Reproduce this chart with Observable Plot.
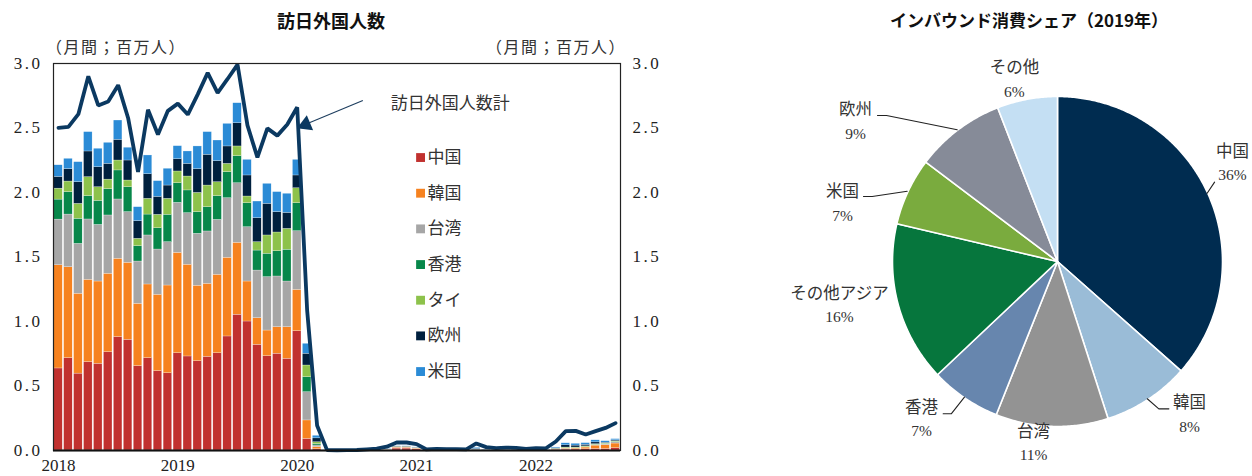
<!DOCTYPE html>
<html><head><meta charset="utf-8">
<script src="https://cdn.jsdelivr.net/npm/d3@7"></script>
<script src="https://cdn.jsdelivr.net/npm/@observablehq/plot@0.6"></script>
<style>
body{margin:0;background:#fff;}
#wrap{position:relative;width:1252px;height:476px;overflow:hidden;font-family:"Noto Sans CJK JP",sans-serif;color:#222;}
.abs{position:absolute;white-space:nowrap;line-height:1;}
#left{position:absolute;left:0;top:0;}
#right{position:absolute;left:660px;top:0;}
#left g[aria-label="y-axis tick label"] text{letter-spacing:2.5px;}
</style></head><body><div id="wrap"><div id="left"></div><div id="right"></div></div>
<script>
// ---------- left chart data (millions of visitors per month, Jan 2018 - Sep 2022) ----------
const yearLabels = ["2018","2019","2020","2021","2022"];
const yTicks = [0, 0.5, 1.0, 1.5, 2.0, 2.5, 3.0];
const seriesNames = ["中国","韓国","台湾","香港","タイ","欧州","米国"];
const seriesColors = ["#c1312f","#f6821f","#a6a6a6","#07874a","#8dc24b","#00203e","#2b8bd6"];

const china = [
.636,.716,.596,.685,.672,.762,.879,.858,.654,.716,.615,.599,
.754,.729,.692,.726,.754,.884,1.052,1.000,.819,.731,.750,.711,
.925,.090,.010,.0001,.0001,.0002,.0003,.0006,.0011,.0040,.0150,.0150,
.0090,.0012,.0010,.0010,.0010,.0010,.0020,.0015,.0012,.0015,.0015,.0015,
.0020,.0020,.0060,.0070,.0080,.0100,.0120,.0120,.0180];
const korea = [
.800,.705,.619,.638,.638,.608,.607,.597,.483,.571,.592,.680,
.778,.711,.585,.566,.608,.610,.558,.310,.207,.199,.206,.245,
.320,.143,.017,.0001,.0001,.0001,.0002,.0004,.0006,.0020,.0070,.0070,
.0060,.0003,.0004,.0004,.0004,.0004,.0010,.0008,.0006,.0008,.0008,.0006,
.0008,.0008,.0030,.0070,.0070,.0130,.0260,.0300,.0360];
const taiwan = [
.354,.408,.387,.468,.439,.452,.460,.393,.328,.380,.351,.336,
.388,.400,.403,.406,.426,.462,.462,.421,.369,.414,.393,.354,
.455,.219,.012,.0001,.0001,.0001,.0001,.0002,.0003,.0010,.0030,.0030,
.0020,.0002,.0003,.0003,.0003,.0003,.0010,.0005,.0004,.0005,.0005,.0004,
.0005,.0005,.0010,.0020,.0020,.0020,.0040,.0050,.0090];
const hongkong = [
.155,.174,.194,.181,.186,.204,.225,.193,.119,.162,.165,.212,
.152,.176,.168,.188,.184,.202,.210,.186,.155,.181,.196,.246,
.217,.116,.010,.0000,.0000,.0000,.0000,.0000,.0001,.0002,.0010,.0010,
.0010,.0001,.0001,.0001,.0001,.0001,.0003,.0001,.0001,.0001,.0001,.0001,
.0003,.0003,.0005,.0010,.0010,.0010,.0020,.0030,.0030];
const thailand = [
.085,.082,.116,.147,.106,.074,.077,.052,.057,.122,.104,.124,
.091,.108,.149,.168,.108,.064,.075,.052,.065,.142,.145,.162,
.116,.091,.015,.0001,.0001,.0001,.0002,.0003,.0005,.0008,.0020,.0020,
.0020,.0003,.0004,.0004,.0004,.0004,.0010,.0006,.0005,.0006,.0006,.0005,
.0010,.0010,.0030,.0060,.0050,.0060,.0050,.0050,.0060];
const europe = [
.091,.096,.168,.199,.155,.122,.160,.155,.137,.191,.139,.103,
.095,.098,.184,.238,.163,.135,.180,.163,.186,.245,.158,.124,
.099,.091,.030,.0004,.0003,.0004,.0005,.0008,.0012,.0015,.0030,.0030,
.0020,.0005,.0008,.0008,.0008,.0008,.0070,.0020,.0012,.0015,.0015,.0010,
.0010,.0010,.0040,.0170,.0150,.0120,.0140,.0060,.0070];
const usa = [
.090,.080,.155,.150,.143,.163,.150,.099,.108,.145,.122,.130,
.101,.096,.176,.176,.160,.175,.155,.121,.129,.155,.155,.148,
.121,.077,.020,.0003,.0003,.0004,.0005,.0008,.0012,.0020,.0020,.0020,
.0020,.0005,.0008,.0008,.0008,.0008,.0080,.0020,.0012,.0015,.0015,.0010,
.0020,.0020,.0060,.0160,.0140,.0130,.0160,.0110,.0090];
const total = [
2.501,2.509,2.607,2.901,2.675,2.705,2.832,2.578,2.160,2.641,2.449,2.633,
2.689,2.604,2.761,2.927,2.773,2.880,2.991,2.520,2.272,2.497,2.441,2.527,
2.661,1.085,.194,.003,.002,.003,.004,.009,.014,.030,.062,.062,
.050,.008,.012,.011,.010,.009,.055,.026,.018,.022,.021,.012,
.018,.017,.070,.150,.152,.124,.150,.175,.212];
const totalLabel = "訪日外国人数計";

// ---------- right chart data (2019 inbound consumption share, %) ----------
const pieNames = ["中国","韓国","台湾","香港","その他アジア","米国","欧州","その他"];
const pieValues = [36.5, 8.5, 11.0, 6.9, 15.7, 6.6, 8.8, 5.9];
const pieLabels = ["36%","8%","11%","7%","16%","7%","9%","6%"];
const pieColors = ["#002c50","#9abcd7","#939393","#6786ae","#06763d","#7aab3e","#868b98","#c4dff3"];

const serif = "Liberation Serif";
const jp = "Noto Sans CJK JP";

// ---------- build left chart ----------
const seriesData = [china, korea, taiwan, hongkong, thailand, europe, usa];
const stacked = [];
total.forEach((_, i) => {
  let acc = 0;
  seriesNames.forEach((s, k) => {
    const v = seriesData[k][i];
    stacked.push({i, series: s, y1: acc, y2: acc + v});
    acc += v;
  });
});
const lineData = total.map((v, i) => ({i, v}));
const yearTicks = yearLabels.map((_, k) => k * 12 + 0.5);

const legendRows = seriesNames.map((s, k) => ({s, y: 2.271 - k * 0.2765}));
const annot = [{x: 33.9, y: 2.69, text: totalLabel}];
const arrowD = [{x1: 31.1, y1: 2.713, x2: 25.6, y2: 2.537}];
const arrowHead = [{x: 25.35, y: 2.527}];

const leftPlot = Plot.plot({
  width: 660, height: 476,
  marginLeft: 53, marginRight: 40, marginTop: 63, marginBottom: 26,
  x: {domain: [0, total.length]},
  y: {domain: [0, 3]},
  color: {domain: seriesNames, range: seriesColors},
  style: {background: "transparent", overflow: "visible", fontFamily: jp},
  marks: [
    Plot.rect(stacked, {x1: "i", x2: d => d.i + 1, y1: "y1", y2: "y2", fill: "series",
      insetLeft: 0.7, insetRight: 0.7, stroke: "white", strokeWidth: 0.35, strokeOpacity: 0.7}),
    Plot.line(lineData, {x: d => d.i + 0.5, y: "v", stroke: "#0b3961", strokeWidth: 3.8, strokeLinejoin: "miter"}),
    Plot.frame({stroke: "#222", strokeWidth: 1.2}),
    Plot.ruleY([0], {stroke: "#111", strokeWidth: 2}),
    Plot.axisY(yTicks, {anchor: "left", tickSize: 0, tickPadding: 11, tickFormat: d => d.toFixed(1),
      fontSize: 17, fontFamily: serif, color: "#222", label: null}),
    Plot.axisY(yTicks, {anchor: "right", tickSize: 0, tickPadding: 12, tickFormat: d => d.toFixed(1),
      fontSize: 17, fontFamily: serif, color: "#222", label: null}),
    Plot.axisX(yearTicks, {tickSize: 0, tickPadding: 8, tickFormat: d => yearLabels[Math.round((d - 0.5) / 12)],
      fontSize: 17, fontFamily: serif, color: "#222", label: null}),
    Plot.dot(legendRows, {x: 36.9, y: "y", symbol: "square", r: 5, fill: "s"}),
    Plot.text(legendRows, {x: 37.6, y: "y", text: "s", textAnchor: "start", fontSize: 17, fill: "#333", fontFamily: jp}),
    Plot.text(annot, {x: "x", y: "y", text: "text", textAnchor: "start", fontSize: 17, fill: "#333", fontFamily: jp}),
    Plot.link(arrowD, {x1: "x1", y1: "y1", x2: "x2", y2: "y2", stroke: "#1d3d5e", strokeWidth: 1.1}),
    Plot.dot(arrowHead, {x: "x", y: "y", symbol: "triangle", r: 6, fill: "#0b3961", rotate: 247})
  ]
});
document.getElementById("left").appendChild(leftPlot);

// ---------- build pie ----------
const arcs = d3.pie().sort(null).startAngle(0).endAngle(2 * Math.PI)(pieValues);
const polyPts = [];
arcs.forEach((a, k) => {
  const name = pieNames[k];
  polyPts.push({key: name, x: 0, y: 0});
  const n = Math.max(4, Math.ceil((a.endAngle - a.startAngle) / 0.01));
  for (let j = 0; j <= n; j++) {
    const t = a.startAngle + (a.endAngle - a.startAngle) * j / n;
    polyPts.push({key: name, x: Math.sin(t), y: Math.cos(t)});
  }
  polyPts.push({key: name, x: 0, y: 0});
});

const pieLabelPos = [
  {x: 1.061, y: 0.667}, {x: 0.800, y: -0.855}, {x: -0.145, y: -1.030}, {x: -0.824, y: -0.885},
  {x: -1.321, y: -0.194}, {x: -1.303, y: 0.424}, {x: -1.224, y: 0.921}, {x: -0.261, y: 1.173}
];
const labelRows = pieNames.map((n, k) => ({name: n, pct: pieLabels[k], ...pieLabelPos[k]}));
const leaders = [
  {k: "中国", pts: [[0.907, 0.414], [0.952, 0.481]]},
  {k: "欧州", pts: [[-1.091, 0.885], [-1.036, 0.885], [-0.608, 0.798]]},
  {k: "米国", pts: [[-1.176, 0.394], [-1.123, 0.394], [-0.911, 0.426]]},
  {k: "香港", pts: [[-0.693, -0.923], [-0.644, -0.923], [-0.564, -0.822]]},
  {k: "韓国", pts: [[0.675, -0.893], [0.614, -0.893], [0.544, -0.832]]}
].flatMap(l => l.pts.map(p => ({k: l.k, x: p[0], y: p[1]})));

const piePlot = Plot.plot({
  width: 592, height: 476,
  marginLeft: 232, marginRight: 30, marginTop: 96, marginBottom: 50,
  x: {domain: [-1, 1], axis: null},
  y: {domain: [-1, 1], axis: null},
  color: {domain: pieNames, range: pieColors},
  style: {background: "transparent", overflow: "visible", fontFamily: jp},
  marks: [
    Plot.line(polyPts, {x: "x", y: "y", z: "key", fill: "key", stroke: "white", strokeWidth: 1.6, strokeLinejoin: "round", curve: "linear"}),
    Plot.line(leaders, {x: "x", y: "y", z: "k", stroke: "#222", strokeWidth: 1.1}),
    Plot.text(labelRows, {x: "x", y: "y", text: "name", fontSize: 16.5, fill: "#333", fontFamily: jp}),
    Plot.text(labelRows, {x: "x", y: "y", text: "pct", dy: 24, fontSize: 15.5, fill: "#333", fontFamily: serif})
  ]
});
document.getElementById("right").appendChild(piePlot);

// ---------- titles ----------
const wrap = document.getElementById("wrap");
function addText(txt, css) {
  const d = document.createElement("div");
  d.className = "abs";
  d.textContent = txt;
  Object.assign(d.style, css);
  wrap.appendChild(d);
  return d;
}
addText("訪日外国人数", {left: "331px", top: "11px", transform: "translateX(-50%)", fontSize: "18px", fontWeight: "bold", color: "#111"});
addText("インバウンド消費シェア（2019年）", {left: "1029px", top: "11px", transform: "translateX(-50%)", fontSize: "17px", fontWeight: "bold", color: "#111"});
addText("（月間；百万人）", {left: "46px", top: "38px", fontSize: "16px", letterSpacing: "1.5px", color: "#333"});
addText("（月間；百万人）", {left: "486px", top: "38px", fontSize: "16px", letterSpacing: "1.5px", color: "#333"});
</script>
</body></html>
